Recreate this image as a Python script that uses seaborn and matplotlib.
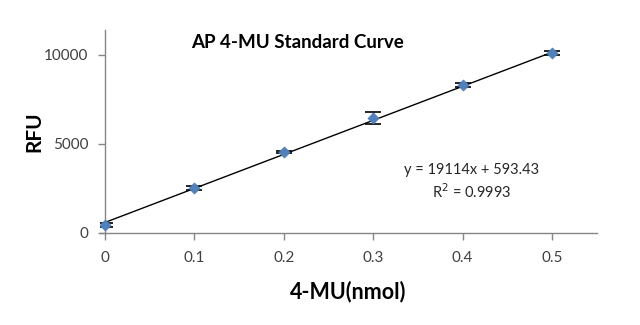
import numpy as np
import pandas as pd
import matplotlib
matplotlib.use("Agg")
import matplotlib.pyplot as plt
import seaborn as sns

# Standard curve measurements
amount_nmol = [0.0, 0.1, 0.2, 0.3, 0.4, 0.5]
rfu_mean = [450, 2530, 4550, 6460, 8310, 10110]
rfu_err = [110, 90, 80, 330, 110, 100]

# Linear fit reported on the chart
slope = 19114
intercept = 593.43
r_squared = 0.9993

x_ticks = [0, 0.1, 0.2, 0.3, 0.4, 0.5]
x_tick_labels = ["0", "0.1", "0.2", "0.3", "0.4", "0.5"]
y_ticks = [0, 5000, 10000]

sns.set_theme(style="white")
plt.rcParams["font.family"] = ["Lato", "DejaVu Sans"]

df = pd.DataFrame({"amount": amount_nmol, "rfu": rfu_mean, "err": rfu_err})

fig = plt.figure(figsize=(6.4, 3.25), dpi=100)
ax = fig.add_axes([100 / 640, (325 - 233) / 325, (597 - 100) / 640, (233 - 30) / 325])

# trendline
fit_x = np.array([amount_nmol[0], amount_nmol[-1]])
sns.lineplot(x=fit_x, y=slope * fit_x + intercept, ax=ax, color="black",
             linewidth=1.0, zorder=2)

# error bars
ax.errorbar(df["amount"], df["rfu"], yerr=df["err"], fmt="none",
            ecolor="black", elinewidth=1.0, capsize=6, capthick=1.2, zorder=3)

# data points
sns.scatterplot(data=df, x="amount", y="rfu", ax=ax, marker="D", s=32,
                color="#4F81BD", edgecolor="#4F81BD", linewidth=0.5, zorder=4)

ax.set_xlim(-0.0056, 0.5503)
ax.set_ylim(0, 11400)
ax.set_xticks(x_ticks)
ax.set_xticklabels(x_tick_labels)
ax.set_yticks(y_ticks)

for side in ["top", "right"]:
    ax.spines[side].set_visible(False)
for side in ["left", "bottom"]:
    ax.spines[side].set_color("#868686")
    ax.spines[side].set_linewidth(1.0)
ax.spines["left"].set_position(("data", 0))

ax.tick_params(axis="x", which="both", direction="out", length=5, width=1,
               color="#868686", labelsize=11, labelcolor="#404040", pad=8)
ax.tick_params(axis="y", which="both", direction="out", length=5, width=1,
               color="#868686", labelsize=11, labelcolor="#404040", pad=7)
ax.tick_params(bottom=True, left=True)

ax.set_xlabel("4-MU(nmol)", fontsize=15.5, fontweight="bold", color="black", labelpad=11)
ax.set_ylabel("RFU", fontsize=15, fontweight="bold", color="black", labelpad=0)

fig.text(297 / 640, 1 - 43 / 325, "AP 4-MU Standard Curve", ha="center", va="center",
         fontsize=13.5, fontweight="bold", color="black")

ax.text(0.41, 3560, f"y = {slope}x + {intercept}", ha="center", va="center",
        fontsize=10.5, color="#262626")
ax.text(0.41, 2330, f"R$^2$ = {r_squared}", ha="center", va="center",
        fontsize=10.5, color="#262626")

fig.savefig("out.png", dpi=100, facecolor="white")
